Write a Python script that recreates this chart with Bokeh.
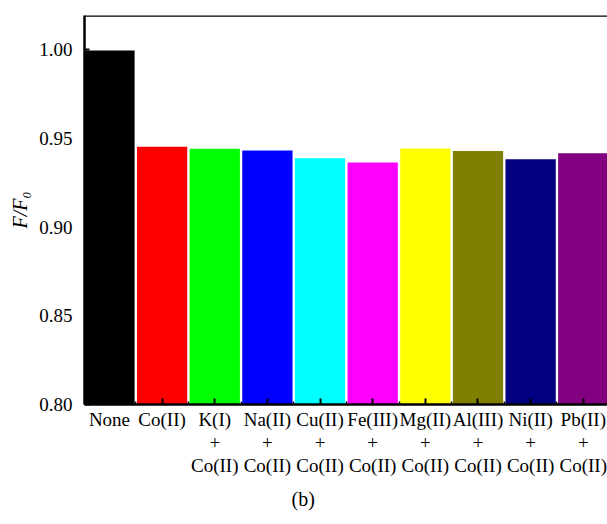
from bokeh.plotting import figure
from bokeh.models import ColumnDataSource, FixedTicker, Range1d, Span, Title
from bokeh.embed import file_html
from bokeh.resources import INLINE

categories = ["None", "Co(II)", "K(I)\n+\nCo(II)", "Na(II)\n+\nCo(II)", "Cu(II)\n+\nCo(II)",
              "Fe(III)\n+\nCo(II)", "Mg(II)\n+\nCo(II)", "Al(III)\n+\nCo(II)",
              "Ni(II)\n+\nCo(II)", "Pb(II)\n+\nCo(II)"]
values = [0.9995, 0.9452, 0.9441, 0.9431, 0.9388, 0.9363, 0.9443, 0.9429, 0.9382, 0.9416]
colors = ["#000000", "#FF0000", "#00FF00", "#0000FF", "#00FFFF",
          "#FF00FF", "#FFFF00", "#808000", "#000080", "#800080"]
y_ticks = [0.80, 0.85, 0.90, 0.95, 1.00]

FONT = "Liberation Serif"
xs = list(range(len(categories)))
src = ColumnDataSource(dict(x=xs, top=values, color=colors))

y0, y1 = 0.80, 1.0192
p = figure(width=607, height=520, output_backend="svg", toolbar_location=None,
           x_range=Range1d(-0.474, 9.46), y_range=Range1d(y0, y1),
           min_border_left=84, min_border_right=0, min_border_top=15, min_border_bottom=116)
p.vbar(x="x", top="top", bottom=y0, width=0.955, color="color", source=src, line_color=None)

p.outline_line_color = None
p.add_layout(Span(location=y1, dimension="width", line_color="black", line_width=2.5))
p.grid.visible = False

xa = p.xaxis[0]
xa.ticker = FixedTicker(ticks=xs, minor_ticks=[i + 0.5 for i in range(-1, 10)])
xa.major_label_overrides = {i: c for i, c in enumerate(categories)}
xa.major_label_text_font = FONT
xa.major_label_text_font_size = "19px"
xa.major_label_text_color = "black"
xa.major_label_text_line_height = 1.1
xa.major_label_standoff = 4
xa.major_tick_in = 6
xa.major_tick_out = 0
xa.minor_tick_in = 3
xa.minor_tick_out = 0
xa.axis_line_width = 2.5
xa.axis_line_color = "black"
xa.major_tick_line_width = 2
xa.minor_tick_line_width = 1.5

p.add_layout(Title(text="(b)", align="left", offset=207, standoff=15,
                   text_font=FONT, text_font_size="20px", text_font_style="normal",
                   text_color="black"), "below")

ya = p.yaxis[0]
ya.ticker = FixedTicker(ticks=y_ticks, minor_ticks=[0.825, 0.875, 0.925, 0.975])
ya.formatter.use_scientific = False
ya.major_label_overrides = {v: f"{v:.2f}" for v in y_ticks}
ya.major_label_text_font = FONT
ya.major_label_text_font_size = "19px"
ya.major_label_text_color = "black"
ya.major_label_standoff = 12
ya.major_tick_in = 5
ya.major_tick_out = 0
ya.minor_tick_in = 3
ya.minor_tick_out = 0
ya.axis_line_width = 2.5
ya.axis_line_color = "black"
ya.major_tick_line_width = 2
ya.axis_label = "F/F₀"
ya.axis_label_text_font = FONT
ya.axis_label_text_font_size = "20px"
ya.axis_label_text_font_style = "italic"
ya.axis_label_text_color = "black"
ya.axis_label_standoff = 5

open("out.html", "w").write(file_html(p, INLINE))
